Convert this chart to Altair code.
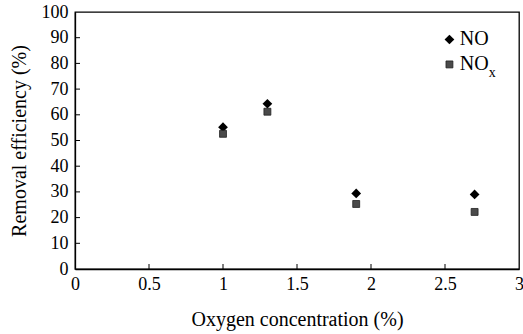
import altair as alt
import pandas as pd

# Removal efficiency versus oxygen concentration
oxygen = [1.0, 1.3, 1.9, 2.7]
no_eff = [55.2, 64.3, 29.4, 29.0]
nox_eff = [52.6, 61.2, 25.3, 22.2]

x_ticks = [0, 0.5, 1, 1.5, 2, 2.5, 3]
y_ticks = [0, 10, 20, 30, 40, 50, 60, 70, 80, 90, 100]

# legend entries, placed in data units
leg_x = 2.53
leg_text_x = 2.60
leg_y = [89.3, 79.6]
leg_labels = ["NO", "NO"]

FONT = "'Liberation Serif', 'Times New Roman', 'DejaVu Serif', serif"
PLOT_W, PLOT_H = 444, 257

no_df = pd.DataFrame({"o2": oxygen, "eff": no_eff})
nox_df = pd.DataFrame({"o2": oxygen, "eff": nox_eff})

xs = alt.Scale(domain=[0, 3], nice=False, zero=False)
ys = alt.Scale(domain=[0, 100], nice=False, zero=False)

x_axis = alt.Axis(values=x_ticks, format="~g", tickSize=0, labelPadding=6,
                  titlePadding=16, grid=False, labelOverlap=False,
                  labelFlush=False, labelFont=FONT, titleFont=FONT)
y_axis = alt.Axis(values=y_ticks, tickSize=0, labelPadding=7, titlePadding=12,
                  grid=False, labelOverlap=False, labelFlush=False,
                  labelFont=FONT, titleFont=FONT)


def xe(field):
    return alt.X(field, type="quantitative", scale=xs, axis=x_axis,
                 title="Oxygen concentration (%)")


def ye(field):
    return alt.Y(field, type="quantitative", scale=ys, axis=y_axis,
                 title="Removal efficiency (%)")


DIAMOND = dict(shape="diamond", filled=True, color="black", size=95, opacity=1)
SQUARE = dict(shape="square", filled=True, fill="#4a4a4a", stroke="#222222",
              strokeWidth=0.8, size=48, opacity=1)

no_pts = alt.Chart(no_df).mark_point(**DIAMOND).encode(x=xe("o2"), y=ye("eff"))
nox_pts = alt.Chart(nox_df).mark_point(**SQUARE).encode(x=xe("o2"), y=ye("eff"))

# inward tick marks along the bottom and left axes
xt_df = pd.DataFrame({"o2": x_ticks[1:-1]})
yt_df = pd.DataFrame({"eff": y_ticks[1:-1]})
x_tk = alt.Chart(xt_df).mark_rule(color="black", strokeWidth=1).encode(
    x=xe("o2"), y=alt.value(PLOT_H), y2=alt.value(PLOT_H - 5))
y_tk = alt.Chart(yt_df).mark_rule(color="black", strokeWidth=1).encode(
    y=ye("eff"), x=alt.value(0), x2=alt.value(5))

# legend
leg_df = pd.DataFrame({"o2": [leg_x, leg_x], "eff": leg_y})
leg_no = alt.Chart(leg_df.iloc[[0]]).mark_point(**DIAMOND).encode(
    x=xe("o2"), y=ye("eff"))
leg_nox = alt.Chart(leg_df.iloc[[1]]).mark_point(**SQUARE).encode(
    x=xe("o2"), y=ye("eff"))
leg_txt_df = pd.DataFrame({"o2": [leg_text_x] * 2, "eff": leg_y, "t": leg_labels})
leg_txt = alt.Chart(leg_txt_df).mark_text(
    align="left", baseline="middle", font=FONT, fontSize=20, color="black"
).encode(x=xe("o2"), y=ye("eff"), text="t:N")
leg_sub = alt.Chart(leg_txt_df.iloc[[1]]).mark_text(
    align="left", baseline="middle", font=FONT, fontSize=14, color="black",
    dx=29, dy=9
).encode(x=xe("o2"), y=ye("eff"), text=alt.value("x"))

chart = alt.layer(
    no_pts, nox_pts, x_tk, y_tk, leg_no, leg_nox, leg_txt, leg_sub
).properties(
    width=PLOT_W, height=PLOT_H,
    autosize=alt.AutoSizeParams(type="none"),
    padding={"left": 75, "top": 12, "right": 4, "bottom": 65},
    background="white",
).configure_view(
    stroke="black", strokeWidth=1.3
).configure_axis(
    labelFont=FONT, titleFont=FONT, labelFontSize=18, titleFontSize=20,
    labelColor="black", titleColor="black", titleFontWeight="normal",
    domainColor="black", domainWidth=1.3, labelOverlap=False
)

chart.save("out.html", embed_options={"renderer": "svg", "actions": False})
